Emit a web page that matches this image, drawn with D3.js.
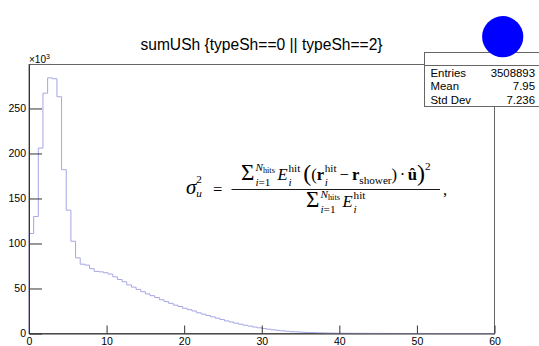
<!DOCTYPE html>
<html><head><meta charset="utf-8">
<script src="https://cdn.jsdelivr.net/npm/d3@7"></script>
<style>body{margin:0;background:#fff}svg{display:block}</style>
</head><body>
<svg id="c" width="539" height="346"></svg>
<script>
// ---------------- data ----------------
const title = "sumUSh {typeSh==0 || typeSh==2}";
const xMin = 0, xMax = 60, binWidth = 0.6;
// bin contents in units of 10^3 (100 bins, width 0.6)
const counts = [
  111, 130, 206, 267, 284, 283, 263, 182, 137, 102.5,
  84, 77, 76, 72, 69, 68.5, 67.5, 66, 63, 60,
  57.5, 54, 51.5, 49, 46.5, 44, 42, 40, 37.5, 35.5,
  33.5, 31.5, 30, 28, 26.5, 25, 23, 21.5, 20, 18.5,
  17, 15.5, 14, 12.8, 11.5, 10.3, 9.2, 8.2, 7.2, 6.3,
  5.5, 4.8, 4.1, 3.5, 3.0, 2.5, 2.1, 1.8, 1.5, 1.25,
  1.05, 0.9, 0.75, 0.6, 0.5, 0.42, 0.35, 0.3, 0.25, 0.21,
  0.18, 0.16, 0.14, 0.12, 0.11, 0.1, 0.09, 0.08, 0.07, 0.06,
  0.05, 0.05, 0.04, 0.03, 0.02, 0, 0, 0, 0, 0,
  0, 0, 0, 0, 0, 0, 0, 0, 0, 0
];
const yMax = 299.4;
const xTicks = [0, 10, 20, 30, 40, 50, 60];
const xMinorTicks = d3.range(0, 61, 2);
const yTicks = [0, 50, 100, 150, 200, 250];
const yMinorTicks = d3.range(0, 300, 10);
const statsLabels = ["Entries", "Mean", "Std Dev"];
const statsValues = ["3508893", "7.95", "7.236"];

// ---------------- layout ----------------
const svg = d3.select("#c");
const L = 29, R = 494.5, T = 64, B = 333.5;
const x = d3.scaleLinear().domain([xMin, xMax]).range([L, R]);
const y = d3.scaleLinear().domain([0, yMax]).range([B, T]);
const sans = "'Liberation Sans', Arial, Helvetica, sans-serif";
const axisCol = "#333";

// title
svg.append("text").attr("x", 261.5).attr("y", 50).attr("text-anchor", "middle")
  .attr("font-family", sans).attr("font-size", 15.6).attr("fill", "#000").text(title);

// frame
svg.append("rect").attr("x", L).attr("y", T + 0.5).attr("width", R - L).attr("height", B - T - 0.5)
  .attr("fill", "none").attr("stroke", "#666").attr("stroke-width", 1);

// histogram
const pts = [[xMin, 0]];
counts.forEach((c, i) => {
  pts.push([xMin + i * binWidth, c]);
  pts.push([xMin + (i + 1) * binWidth, c]);
});
pts.push([xMax, 0]);
svg.append("path").datum(pts)
  .attr("d", d3.line().x(d => x(d[0])).y(d => y(d[1])))
  .attr("fill", "none").attr("stroke", "#a6a6e4").attr("stroke-width", 1);

// y axis
const gy = svg.append("g").attr("transform", `translate(${L},0)`);
gy.call(d3.axisLeft(y).tickValues(yMinorTicks).tickSize(-7).tickSizeOuter(0).tickFormat(""));
gy.call(d3.axisLeft(y).tickValues(yTicks).tickSize(-13).tickSizeOuter(0).tickPadding(3).tickFormat(d3.format("d")));
gy.selectAll("path,line").attr("stroke", axisCol);
gy.selectAll("text").attr("font-family", sans).attr("font-size", 10.5).attr("fill", "#000");

// x axis
const gx = svg.append("g").attr("transform", `translate(0,${B})`);
gx.call(d3.axisBottom(x).tickValues(xMinorTicks).tickSize(-4).tickSizeOuter(0).tickFormat(""));
gx.call(d3.axisBottom(x).tickValues(xTicks).tickSize(-8).tickSizeOuter(0).tickPadding(4.5).tickFormat(d3.format("d")));
gx.selectAll("path,line").attr("stroke", axisCol);
gx.selectAll("text").attr("font-family", sans).attr("font-size", 10.5).attr("fill", "#000");

// x10^3
const ex = svg.append("text").attr("x", 29).attr("y", 63).attr("font-family", sans).attr("font-size", 10).attr("fill", "#000");
ex.append("tspan").text("×10");
ex.append("tspan").attr("font-size", 7).attr("dy", -4).text("3");

// stats box
const sb = svg.append("g");
sb.append("rect").attr("x", 424.5).attr("y", 52.5).attr("width", 130).attr("height", 54)
  .attr("fill", "#fff").attr("stroke", "#666");
sb.append("line").attr("x1", 424.5).attr("x2", 539).attr("y1", 65.5).attr("y2", 65.5).attr("stroke", "#666");
statsLabels.forEach((s, i) => {
  sb.append("text").attr("x", 430.5).attr("y", 76.7 + i * 13.6).attr("font-family", sans)
    .attr("font-size", 11.4).attr("fill", "#000").text(s);
  sb.append("text").attr("x", 535).attr("y", 76.7 + i * 13.6).attr("text-anchor", "end").attr("font-family", sans)
    .attr("font-size", 11.4).attr("fill", "#000").text(statsValues[i]);
});

// blue circle
svg.append("circle").attr("cx", 502.7).attr("cy", 36.7).attr("r", 20.6).attr("fill", "#0000ff");

// ---------------- formula ----------------
const serif = "'Liberation Serif', 'Times New Roman', serif";
const F = svg.append("g").attr("font-family", serif).attr("fill", "#000");
function piece(parent, px, py, parts, size) {
  const t = parent.append("text").attr("x", px).attr("y", py).attr("font-size", size);
  parts.forEach(p => {
    const ts = t.append("tspan").text(p.t);
    if (p.it) ts.attr("font-style", "italic");
    if (p.b) ts.attr("font-weight", "bold");
    if (p.fs) ts.attr("font-size", p.fs);
    if (p.dy) ts.attr("dy", p.dy);
  });
  return t.node().getComputedTextLength();
}
function layoutRow(g, tokens) {
  let cx = 0;
  tokens.forEach(tk => {
    if (tk.space !== undefined) { cx += tk.space; return; }
    if (tk.sup || tk.sub) {
      let w = 0;
      if (tk.sup) w = Math.max(w, piece(g, cx, tk.supY, tk.sup, tk.size));
      if (tk.sub) w = Math.max(w, piece(g, cx, tk.subY, tk.sub, tk.size));
      cx += w + (tk.after || 0);
      return;
    }
    cx += piece(g, cx, tk.dy || 0, tk.parts, tk.size);
  });
  return cx;
}
const M = 16.6, S = 11.2, SS = 8.3, SIG = 23, BIG = 24;
const sumScripts = { sup: [{ t: "N", it: 1 }, { t: "hits", fs: SS, dy: 2 }], sub: [{ t: "i", it: 1 }, { t: "=1" }], size: S, supY: -8.8, subY: 6, after: 2.5 };
const numTokens = [
  { parts: [{ t: "Σ" }], size: SIG }, { space: 1 }, sumScripts,
  { parts: [{ t: "E", it: 1 }], size: M }, { space: 1 },
  { sup: [{ t: "hit" }], sub: [{ t: "i", it: 1 }], size: S, supY: -7.5, subY: 6, after: 3 },
  { parts: [{ t: "(" }], size: BIG, dy: 1.8 },
  { parts: [{ t: "(" }], size: M }, { parts: [{ t: "r", b: 1 }], size: M }, { space: 0.5 },
  { sup: [{ t: "hit" }], sub: [{ t: "i", it: 1 }], size: S, supY: -7.5, subY: 6, after: 3 },
  { parts: [{ t: "−" }], size: M }, { space: 3 },
  { parts: [{ t: "r", b: 1 }], size: M }, { sub: [{ t: "shower" }], size: S, subY: 4, after: 0 },
  { parts: [{ t: ")" }], size: M }, { space: 2.5 },
  { parts: [{ t: "·" }], size: M }, { space: 2.5 },
  { parts: [{ t: "û", b: 1 }], size: M },
  { parts: [{ t: ")" }], size: BIG, dy: 1.8 },
  { sup: [{ t: "2" }], size: S, supY: -10 }
];
const denTokens = [
  { parts: [{ t: "Σ" }], size: SIG }, { space: 1 }, sumScripts,
  { parts: [{ t: "E", it: 1 }], size: M }, { space: 1 },
  { sup: [{ t: "hit" }], sub: [{ t: "i", it: 1 }], size: S, supY: -7.5, subY: 6 }
];
const barL = 231.5, barR = 440, barY = 189.5, barC = (barL + barR) / 2;
const gn = F.append("g");
const wn = layoutRow(gn, numTokens);
gn.attr("transform", `translate(${barC - wn / 2},179.5)`);
const gd = F.append("g");
const wd = layoutRow(gd, denTokens);
gd.attr("transform", `translate(${barC - wd / 2},206.5)`);
F.append("line").attr("x1", barL).attr("x2", barR).attr("y1", barY).attr("y2", barY)
  .attr("stroke", "#000").attr("stroke-width", 0.9);
// left side
const gl = F.append("g").attr("transform", "translate(186,193.8)");
layoutRow(gl, [
  { parts: [{ t: "σ", it: 1 }], size: 21 },
  { sup: [{ t: "2" }], sub: [{ t: "u", it: 1 }], size: S, supY: -10.5, subY: 3.5 }
]);
piece(F, 213, 194.5, [{ t: "=" }], M);
piece(F, 443, 194.5, [{ t: "," }], M);
</script>
</body></html>
